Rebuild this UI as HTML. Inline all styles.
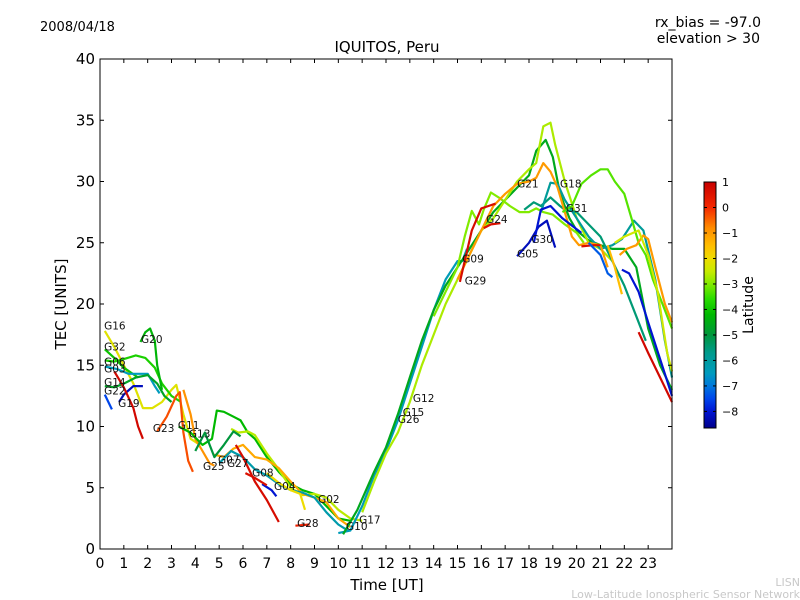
<!DOCTYPE html>
<html><head><meta charset="utf-8">
<style>
body{margin:0;background:#fff;}
svg{display:block;font-family:"DejaVu Sans","Liberation Sans",sans-serif;}
</style></head>
<body>
<svg id="chart" width="800" height="600" viewBox="0 0 800 600">
<defs>
<linearGradient id="cbar" x1="0" y1="1" x2="0" y2="0">
</linearGradient>
</defs>
<text x="40" y="31" font-size="13">2008/04/18</text>
<text x="761" y="27" font-size="14" text-anchor="end">rx_bias = -97.0</text>
<text x="760" y="43" font-size="14" text-anchor="end">elevation &gt; 30</text>
<text x="387" y="52" font-size="15" text-anchor="middle">IQUITOS, Peru</text>
<g id="series"></g>
<g id="labels"></g>
<rect x="100" y="59" width="572" height="490" fill="none" stroke="#000" stroke-width="1"/>
<g id="axes"></g>
<text x="387" y="590" font-size="15" text-anchor="middle">Time [UT]</text>
<text x="66" y="304" font-size="15" text-anchor="middle" transform="rotate(-90 66 304)">TEC [UNITS]</text>
<rect x="704" y="182" width="12" height="246" fill="url(#cbar)" stroke="#000" stroke-width="1"/>
<g id="cbticks"></g>
<text x="753" y="305" font-size="14" text-anchor="middle" transform="rotate(-90 753 305)">Latitude</text>
<text x="800" y="586" font-size="11" fill="#c8c8c8" text-anchor="end">LISN</text>
<text x="800" y="598" font-size="11" fill="#c8c8c8" text-anchor="end">Low-Latitude Ionospheric Sensor Network</text>
</svg>
<script>
const xTicks=[0,1,2,3,4,5,6,7,8,9,10,11,12,13,14,15,16,17,18,19,20,21,22,23];
const yTicks=[0,5,10,15,20,25,30,35,40];
const cbTicks=[1,0,-1,-2,-3,-4,-5,-6,-7,-8];
const seriesLat=[-2.2,-4,-3.8,-6.5,-4.7,-7.5,-8.2,0.8,-4.3,-0.3,-0.9,-4.2,-2.6,-1.2,-6.2,-8,0.6,0.7,0.2,-2,-6.4,-4.6,-2.7,-3,-5.5,-5.9,-1,0.7,0.6,-8.2,-8,-3.3,-1,0.6,0.8,-8,-7.3,-1.5,-2.4,-5];
const seriesPts=[
[[0.2,17.8],[0.6,16.5],[1,15],[1.4,13.5],[1.8,11.5],[2.2,11.5],[2.6,12],[3,13],[3.2,13.4],[3.5,11],[3.8,9],[4.2,8.5]],
[[0.2,16.3],[0.6,15.6],[1,14.8],[1.3,14.4],[1.6,14]],
[[0.2,15.4],[0.6,15.3],[1,15.5],[1.5,15.8],[1.9,15.6],[2.3,14.8],[2.6,13.5],[3,12.5],[3.4,12]],
[[0.2,14.9],[0.7,14.7],[1.2,14.3],[1.6,14.3],[2,14.3],[2.3,13.3],[2.5,12.7]],
[[0.2,13.3],[0.6,13.2],[1,13.5],[1.5,14],[2,14.2],[2.4,13.5],[2.7,12.5],[3,12]],
[[0.2,12.6],[0.5,11.4]],
[[0.8,12],[1,12.6],[1.4,13.3],[1.8,13.3]],
[[0.6,14.5],[1,13.2],[1.4,11.5],[1.6,10],[1.8,9]],
[[1.7,16.9],[1.9,17.7],[2.1,18],[2.3,17],[2.4,15],[2.6,13]],
[[2.4,9.6],[2.8,10.8],[3.2,12.5],[3.35,12.8],[3.5,9.5],[3.7,7.2],[3.9,6.3]],
[[3.5,13],[3.8,11],[4,9],[4.3,8],[4.6,7],[4.8,6.8]],
[[3.3,10],[3.8,9.5],[4.3,8.5],[4.7,9],[4.9,11.3],[5.2,11.2],[5.6,10.8],[5.9,10.5],[6.2,9.5],[6.5,9],[7,7.5],[7.5,6.3],[8,5.3],[8.5,4.8],[9,4.5],[9.5,3.5],[10,2.5],[10.5,2.3]],
[[5.5,9.8],[5.8,9.5],[6.2,9.6],[6.5,9.3],[7,7.8],[7.5,6.5],[8,5],[8.5,4.4],[9,4.5],[9.5,4.2],[10,3.2],[10.5,2.5],[11,2.3]],
[[4.8,7.7],[5.2,7.5],[5.6,8.2],[6,8.5],[6.5,7.5],[7,7.3],[7.5,6.6],[8,5.5],[8.5,4.5],[9,4.2],[9.5,3.8],[10,2.5],[10.5,1.8]],
[[5,7],[5.5,8],[6,7.5],[6.5,6.5],[7,6],[7.5,5.3],[8,4.8],[8.5,4.6],[9,4.2],[9.5,3],[10,2],[10.4,1.5]],
[[6.8,5.3],[7.2,4.8],[7.4,4.3]],
[[6.1,6.2],[6.5,5.8],[7,5.2]],
[[5.7,8.5],[6,7.5],[6.5,5.5],[7,4],[7.5,2.2]],
[[8.2,1.9],[8.8,2]],
[[7,6.2],[7.5,5.4],[8,4.8],[8.4,4.5],[8.6,3.2]],
[[10,1.3],[10.5,1.5],[11,3.5],[11.5,6],[12,8],[12.5,10.5],[13,13.5],[13.5,16.5],[14,19.5],[14.5,22],[15,23.5],[15.2,23.5],[15.4,24.5]],
[[10.2,1.2],[10.8,3.2],[11.5,6.3],[12,8.3],[12.5,11],[13,14],[13.5,17],[14,19.5],[14.5,21.5],[15,23],[15.5,24.5],[16,26],[16.5,27.5],[17,28.5],[17.5,29.5],[18,30.5],[18.3,32.5],[18.7,33.4],[19,32],[19.3,29],[19.7,27],[20,26],[20.5,25.2],[21,24.8],[21.5,24.5],[22,24.5],[22.5,23],[23,18],[23.5,15],[24,13]],
[[11,3],[11.5,5.5],[12,7.8],[12.5,9.5],[13,12],[13.5,15],[14,17.5],[14.5,20],[15,22],[15.5,24],[16,26],[16.5,27],[17,28.5],[17.5,30],[18,31],[18.3,31.5],[18.6,34.5],[18.9,34.8],[19.1,33],[19.5,30],[20,27],[20.5,25],[21,24.5],[21.5,23.5]],
[[14,19],[14.5,21],[15,23],[15.3,25.5],[15.6,27.6],[15.9,26.5],[16.1,27.7],[16.4,29.1],[16.8,28.6],[17.2,28],[17.6,27.5],[18,27.5],[18.3,27.8],[18.6,27.5],[19,27.3],[19.5,26.5],[20,25.8],[20.3,25]],
[[17.8,27.7],[18.2,28.3],[18.5,28],[18.9,28.7],[19.3,28],[19.5,27.7],[20,27.5],[20.5,26.5],[21,25.5],[21.5,23.5],[22,21.5],[22.5,19],[22.9,17]],
[[18.5,27.5],[18.9,29.9],[19.2,29.8],[19.5,28.5],[20,27],[20.5,25.5],[21,24.5],[21.5,24.8],[21.9,25.3],[22.4,26.8],[22.8,26],[23.3,22],[23.7,17],[24,14]],
[[15,22],[15.5,24],[16,26],[16.5,28],[17,29],[17.5,29.8],[18,30],[18.3,30.3],[18.6,31.5],[18.9,30.8],[19.2,29.5],[19.5,27.5],[19.8,25.5],[20.1,24.8],[20.5,25],[21,24.8],[21.3,23]],
[[15.1,21.8],[15.3,23.5],[15.6,26],[16,27.8],[16.3,28],[16.6,28.2]],
[[16.1,26.2],[16.4,26.5],[16.8,26.6]],
[[17.5,23.9],[18,25],[18.4,26.3],[18.75,26.8],[19.1,24.6]],
[[18.2,25],[18.5,27.7],[18.9,28],[19.4,27],[20.2,25.8]],
[[19.4,27.5],[19.8,28],[20.2,29.8],[20.6,30.5],[21,31],[21.3,31],[21.6,30],[22,29],[22.3,27],[22.6,25],[22.9,24],[23.2,22],[23.6,20],[24,18]],
[[21.8,24],[22.1,24.5],[22.5,24.8],[22.8,25.6],[23,25.3],[23.3,23],[23.7,20],[24,18.5]],
[[20.2,24.7],[20.7,24.8],[21,24.8]],
[[22.6,17.7],[23,16],[23.5,14],[24,12]],
[[21.9,22.8],[22.2,22.5],[22.6,21],[23,18.5],[23.5,15.5],[24,12.5]],
[[20.5,25],[21,24],[21.3,22.5],[21.5,22.2]],
[[21.3,24.8],[21.6,23],[21.9,20.8]],
[[21.6,25],[22,25.5],[22.6,26],[23,24],[23.4,21],[23.8,16],[24,14.5]],
[[4,8],[4.4,9.5],[4.8,7.5],[5.2,8.5],[5.6,9.6],[5.9,9.2]]
];
const labelNames=["G16","G32","G06","G03","G14","G22","G19","G20","G23","G11","G13","G07","G25","G27","G08","G04","G02","G28","G17","G10","G12","G15","G26","G09","G29","G24","G21","G18","G31","G30","G05"];
const labelH=[0.17,0.17,0.17,0.17,0.17,0.17,0.76,1.72,2.22,3.27,3.73,4.95,4.32,5.33,6.38,7.3,9.15,8.27,10.87,10.32,13.13,12.7,12.5,15.2,15.3,16.2,17.5,19.3,19.55,18.1,17.5];
const labelV=[17.9,16.2,15.0,14.4,13.3,12.6,11.6,16.8,9.55,9.8,9.1,7.0,6.45,6.7,5.9,4.8,3.75,1.8,2.1,1.55,12,10.85,10.3,23.4,21.6,26.6,29.5,29.5,27.5,25,23.8];

const X0=100,X1=672,Y0=549,Y1=59,XMAX=24,YMAX=40;
const sx=h=>X0+h*(X1-X0)/XMAX;
const sy=v=>Y0-v*(Y0-Y1)/YMAX;
const CBMIN=-8.65,CBMAX=1.0;
const cbY=l=>428-(l-CBMIN)*(428-182)/(CBMAX-CBMIN);
const stops=[[-8.65,[0,0,140]],[-8,[0,20,210]],[-7.5,[0,70,235]],[-7,[0,120,220]],[-6.5,[0,155,190]],[-5.7,[0,155,140]],[-5,[0,150,60]],[-4.2,[0,185,0]],[-3.6,[40,220,0]],[-3,[130,235,0]],[-2.5,[200,235,0]],[-2,[238,220,0]],[-1.5,[255,190,0]],[-0.8,[255,140,0]],[0,[245,40,0]],[1,[200,0,0]]];
function col(l){
  if(l<=stops[0][0])return 'rgb('+stops[0][1]+')';
  for(let i=1;i<stops.length;i++){
    if(l<=stops[i][0]){const a=stops[i-1],b=stops[i];const t=(l-a[0])/(b[0]-a[0]);
      return 'rgb('+a[1].map((c,k)=>Math.round(c+(b[1][k]-c)*t)).join(',')+')';}
  }
  return 'rgb('+stops[stops.length-1][1]+')';
}
const NS='http://www.w3.org/2000/svg';
const grad=document.getElementById('cbar');
stops.forEach(s=>{const st=document.createElementNS(NS,'stop');
st.setAttribute('offset',((s[0]-CBMIN)/(CBMAX-CBMIN)).toFixed(4));
st.setAttribute('stop-color','rgb('+s[1]+')');


grad.appendChild(st);});

const sg=document.getElementById('series');
seriesPts.forEach((pts,i)=>{
  const p=document.createElementNS(NS,'polyline');
  p.setAttribute('points',pts.map(q=>sx(q[0]).toFixed(1)+','+sy(q[1]).toFixed(1)).join(' '));
  p.setAttribute('fill','none');p.setAttribute('stroke',col(seriesLat[i]));
  p.setAttribute('stroke-width','2.2');p.setAttribute('stroke-linejoin','round');
  
  
  sg.appendChild(p);
});
const lg=document.getElementById('labels');
labelNames.forEach((n,i)=>{
  const t=document.createElementNS(NS,'text');
  t.setAttribute('x',sx(labelH[i]).toFixed(1));t.setAttribute('y',sy(labelV[i]).toFixed(1));
  t.setAttribute('font-size','10.5');t.setAttribute('fill','#111');
  t.textContent=n;
  
  
  lg.appendChild(t);
});
const ax=document.getElementById('axes');
function line(x1,y1,x2,y2,g){const l=document.createElementNS(NS,'line');
l.setAttribute('x1',x1);l.setAttribute('y1',y1);l.setAttribute('x2',x2);l.setAttribute('y2',y2);
l.setAttribute('stroke','#000');l.setAttribute('stroke-width','1');


g.appendChild(l);}
function txt(x,y,s,anchor,size,g){const t=document.createElementNS(NS,'text');
t.setAttribute('x',x);t.setAttribute('y',y);t.setAttribute('text-anchor',anchor);t.setAttribute('font-size',size);t.textContent=s;


g.appendChild(t);}
xTicks.forEach(h=>{const x=sx(h);line(x,Y0,x,Y0-4,ax);line(x,Y1,x,Y1+4,ax);txt(x,568,String(h),'middle',14,ax);});
yTicks.forEach(v=>{const y=sy(v);line(X0,y,X0+4,y,ax);line(X1,y,X1-4,y,ax);txt(95,y+5,String(v),'end',15,ax);});
const cg=document.getElementById('cbticks');
cbTicks.forEach(l=>{const y=cbY(l);line(704,y,707,y,cg);line(716,y,713,y,cg);txt(722,y+4,String(l).replace('-','\u2212'),'start',11,cg);});
</script>
</body></html>
